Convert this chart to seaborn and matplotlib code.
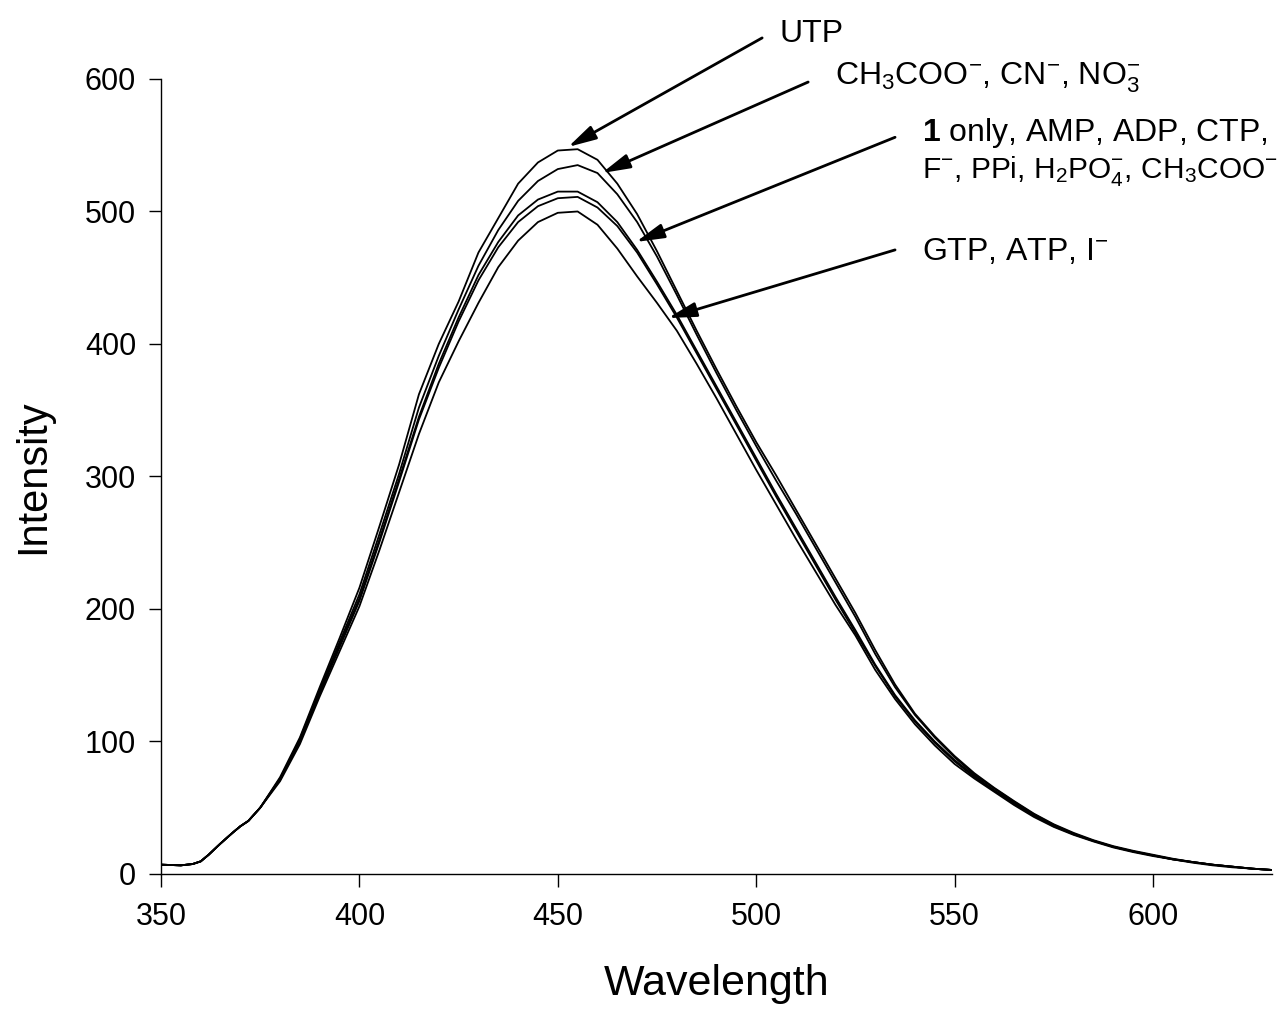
import matplotlib
matplotlib.use("Agg")
import matplotlib.pyplot as plt
import seaborn as sns
import pandas as pd

# ---------------- data ----------------
wl_start = [350, 355, 358, 360, 362, 365, 368, 370, 372, 375]
wl_main = list(range(380, 631, 5))
wavelength = wl_start + wl_main

start_common = [7, 6.5, 7.5, 9.5, 14.5, 23, 31, 36, 40, 50]

utp = [73, 103, 141, 178, 216, 262, 309, 362, 400, 432,
       469, 495, 521, 537, 546, 547, 539, 521, 498, 470,
       440, 410, 381, 353, 326, 301, 275, 249, 223, 197,
       169, 143, 121, 104, 89, 76, 65, 55, 45.5, 37.5,
       31, 25.5, 21, 17.5, 14.5, 11.5, 9, 7, 5.5, 4, 3]

ch3coo_cn_no3 = [72, 102, 139, 175, 211, 256, 302, 352, 391, 426,
                 459, 486, 508, 523, 532, 535, 529, 513, 492, 466,
                 437, 407, 378, 350, 323, 297, 272, 246, 220, 194,
                 166, 141, 120, 103, 88, 75, 64.5, 54.5, 45, 37,
                 30.5, 25, 20.5, 17, 14, 11.2, 9, 7, 5.5, 4, 3]

only1_a = [72, 101, 137, 173, 208, 252, 298, 345, 385, 420,
           452, 477, 497, 509, 515, 515, 507, 492, 471, 447,
           422, 395, 368, 341, 314, 287, 261, 235, 209, 184,
           158, 135, 116, 100, 86, 74, 63, 54, 44, 36.5,
           30, 25, 20.5, 17, 14, 11, 9, 7, 5.5, 4, 3]

only1_b = [71, 100, 136, 171, 206, 250, 296, 343, 382, 417,
           448, 473, 492, 504, 510, 511, 503, 489, 469, 445,
           420, 393, 366, 339, 312, 285, 259, 233, 207, 182,
           157, 134, 115, 99, 85, 73, 63, 53, 44, 36,
           30, 25, 20.5, 17, 14, 11, 9, 7, 5.5, 4, 3]

gtp_atp_i = [70, 98, 134, 168, 202, 244, 288, 332, 371, 402,
             431, 458, 478, 492, 499, 500, 490, 472, 451, 431,
             410, 385, 359, 332, 305, 279, 253, 228, 203, 180,
             154, 132, 113, 97, 83, 72, 62, 52, 43, 35.5,
             29.5, 24.5, 20, 16.5, 13.5, 11, 8.5, 6.5, 5, 4, 3]

series = {
    "UTP": utp,
    "CH3COO-, CN-, NO3-": ch3coo_cn_no3,
    "1 only a": only1_a,
    "1 only b": only1_b,
    "GTP, ATP, I-": gtp_atp_i,
}

x_ticks = [350, 400, 450, 500, 550, 600]
y_ticks = [0, 100, 200, 300, 400, 500, 600]

rows = []
for name, vals in series.items():
    for w, v in zip(wavelength, start_common + vals):
        rows.append({"Wavelength": w, "Intensity": v, "series": name})
df = pd.DataFrame(rows)

# ---------------- style ----------------
sns.set_theme(style="ticks")
plt.rcParams["font.family"] = ["Liberation Sans", "DejaVu Sans"]
plt.rcParams["mathtext.fontset"] = "custom"
plt.rcParams["mathtext.rm"] = "Liberation Sans"
plt.rcParams["mathtext.it"] = "Liberation Sans:italic"
plt.rcParams["mathtext.bf"] = "Liberation Sans:bold"

fig = plt.figure(figsize=(12.82, 10.10), dpi=100)
ax = fig.add_axes([0.1256, 0.1347, 0.8666, 0.7871])

sns.lineplot(data=df, x="Wavelength", y="Intensity", hue="series",
             palette=["black"] * len(series), legend=False,
             estimator=None, linewidth=1.3, ax=ax)

ax.set_xlim(350, 630)
ax.set_ylim(0, 600)
ax.set_xticks(x_ticks)
ax.set_yticks(y_ticks)
ax.tick_params(axis="both", direction="out", length=9, width=1.0,
               labelsize=22, color="black", labelcolor="black")
ax.tick_params(axis="y", pad=9)
ax.tick_params(axis="x", pad=11)
for s in ["top", "right"]:
    ax.spines[s].set_visible(False)
for s in ["left", "bottom"]:
    ax.spines[s].set_color("black")
    ax.spines[s].set_linewidth(1.0)

ax.set_xlabel("Wavelength", fontsize=31, color="black")
ax.set_ylabel("Intensity", fontsize=30, color="black")
ax.xaxis.set_label_coords(0.5, -0.113)
ax.yaxis.set_label_coords(-0.097, 0.5)

# ---------------- annotations ----------------
arrow_kw = dict(arrowstyle="-|>,head_length=0.85,head_width=0.22",
                color="black", lw=2.0, mutation_scale=20, shrinkA=0, shrinkB=0)

annots = [
    ((452.6, 548.7), (501.5, 631.0)),
    ((461.1, 529.0), (513.1, 597.7)),
    ((469.7, 477.0), (535.0, 556.0)),
    ((477.8, 419.6), (535.0, 471.0)),
]
for tip, tail in annots:
    ax.annotate("", xy=tip, xytext=tail, arrowprops=arrow_kw,
                annotation_clip=False)

tkw = dict(color="black", ha="left", va="baseline", clip_on=False)
ax.text(506.0, 628.0, "UTP", fontsize=23, **tkw)
ax.text(519.9, 595.5, r"CH$_3$COO$^{-}$, CN$^{-}$, NO$_3^{-}$", fontsize=23, **tkw)
ax.text(541.8, 553.0, r"$\mathbf{1}$ only, AMP, ADP, CTP,", fontsize=23, **tkw)
ax.text(541.8, 525.0, r"F$^{-}$, PPi, H$_2$PO$_4^{-}$, CH$_3$COO$^{-}$",
        fontsize=21.5, **tkw)
ax.text(541.8, 463.5, r"GTP, ATP, I$^{-}$", fontsize=23, **tkw)

fig.savefig("out.png", dpi=100)
